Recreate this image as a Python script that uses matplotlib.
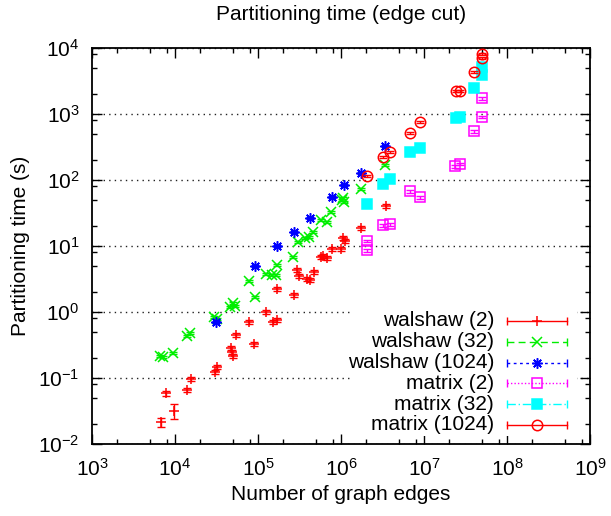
import matplotlib
matplotlib.use('Agg')
import matplotlib.pyplot as plt
from matplotlib.patches import Rectangle
from matplotlib.ticker import FixedLocator, NullFormatter, LogFormatterSciNotation

plt.rcParams['font.family'] = ['Liberation Sans', 'DejaVu Sans']
plt.rcParams['mathtext.fontset'] = 'custom'
plt.rcParams['mathtext.rm'] = 'Liberation Sans'
plt.rcParams['mathtext.it'] = 'Liberation Sans:italic'
plt.rcParams['mathtext.bf'] = 'Liberation Sans:bold'

title = "Partitioning time (edge cut)"
xlabel = "Number of graph edges"
ylabel = "Partitioning time (s)"
labels = ["walshaw (2)", "walshaw (32)", "walshaw (1024)",
          "matrix (2)", "matrix (32)", "matrix (1024)"]
x_major = [1e3, 1e4, 1e5, 1e6, 1e7, 1e8, 1e9]
y_major = [1e-2, 1e-1, 1e0, 1e1, 1e2, 1e3, 1e4]

# walshaw (2)
w2_x = [6.8e3, 9.7e3, 7.8e3, 1.40e4, 1.56e4, 3.03e4, 3.21e4, 4.73e4, 4.86e4, 5.0e4,
        5.43e4, 7.8e4, 8.95e4, 1.25e5, 1.52e5, 1.69e5, 1.69e5, 2.72e5, 2.95e5, 3.12e5,
        3.89e5, 4.23e5, 4.73e5, 5.74e5, 6.07e5, 6.78e5, 7.8e5, 1.0e6, 1.06e6, 1.12e6,
        1.74e6, 3.48e6]
w2_y = [0.0215, 0.032, 0.059, 0.066, 0.097, 0.123, 0.147, 0.285, 0.248, 0.215,
        0.449, 0.705, 0.327, 1.0, 0.705, 0.757, 2.23, 1.81, 4.33, 3.51,
        3.16, 3.05, 4.04, 6.81, 7.05, 6.58, 9.0, 9.0, 13.2, 11.9,
        18.7, 40.4]
w2_e = [0.0037, 0.008, 0.005, 0.005, 0.008, 0.01, 0.012, 0.02, 0.02, 0.017,
        0.035, 0.05, 0.025, 0.08, 0.05, 0.06, 0.17, 0.14, 0.33, 0.27,
        0.25, 0.23, 0.3, 0.5, 0.55, 0.5, 0.7, 0.7, 1.0, 0.9,
        1.4, 3.0]

# walshaw (32)
w32_x = [6.6e3, 7.2e3, 9.5e3, 1.40e4, 1.52e4, 2.95e4, 3.21e4, 4.6e4, 5.0e4, 5.28e4,
         7.8e4, 9.2e4, 1.25e5, 1.47e5, 1.65e5, 1.69e5, 2.64e5, 3.03e5, 3.68e5, 4.11e5,
         4.6e5, 5.74e5, 6.78e5, 7.58e5, 1.03e6, 1.09e6, 1.06e6, 1.74e6, 3.39e6]
w32_y = [0.215, 0.208, 0.239, 0.433, 0.481, 0.84, 0.78, 1.19, 1.37, 1.23,
         2.95, 1.69, 3.77, 3.64, 3.64, 5.15, 6.81, 11.5, 13.2, 13.7,
         16.3, 24.8, 23.1, 32.7, 49.8, 46.4, 53.4, 73.1, 169]
w32_e = [0.006, 0.006, 0.007, 0.012, 0.013, 0.02, 0.02, 0.03, 0.04, 0.03,
         0.08, 0.05, 0.1, 0.1, 0.1, 0.14, 0.2, 0.3, 0.35, 0.4,
         0.45, 0.7, 0.6, 0.9, 1.4, 1.3, 1.5, 2.0, 4.5]

# walshaw (1024)
w1024_x = [3.12e4, 9.2e4, 1.69e5, 2.72e5, 4.23e5, 7.8e5, 1.09e6, 1.74e6, 3.39e6]
w1024_y = [0.705, 4.98, 10.0, 16.3, 26.6, 55.2, 84.0, 128, 327]
w1024_e = [0.02, 0.13, 0.27, 0.45, 0.7, 1.5, 2.3, 3.5, 9.0]

# matrix (2)
m2_x = [2.08e6, 2.08e6, 3.21e6, 3.89e6, 6.78e6, 8.95e6, 2.36e7, 2.72e7, 4.0e7, 5.0e7, 5.0e7]
m2_y = [11.9, 8.7, 20.8, 21.5, 68.1, 55.2, 163, 175, 552, 901, 1745]
m2_e = [0.6, 0.45, 1.1, 1.1, 3.5, 2.8, 8.5, 9.0, 28, 46, 90]

# matrix (32)
m32_x = [2.08e6, 3.21e6, 3.89e6, 6.78e6, 8.95e6, 2.4e7, 2.72e7, 4.0e7, 5.0e7, 5.0e7]
m32_y = [43.3, 86.9, 103.5, 266, 305, 869, 901, 2477, 3900, 5150]
m32_e = [1.5, 3.0, 3.6, 9.0, 10.5, 30, 31, 85, 135, 180]

# matrix (1024)
m1024_x = [2.08e6, 3.21e6, 3.89e6, 6.78e6, 8.95e6, 2.4e7, 2.72e7, 4.0e7, 5.0e7, 5.0e7]
m1024_y = [115, 223, 266, 515, 757, 2230, 2230, 4330, 7050, 8110]
m1024_e = [4.0, 7.7, 9.2, 18, 26, 77, 77, 150, 245, 280]

series = [
    dict(x=w2_x, y=w2_y, e=w2_e, color='#ff0000', marker='+', ls='-', mfc='none'),
    dict(x=w32_x, y=w32_y, e=w32_e, color='#00ee00', marker='x', ls=(0, (5, 3)), mfc='none'),
    dict(x=w1024_x, y=w1024_y, e=w1024_e, color='#0000ff', marker=(8, 2, 0), ls=(0, (2, 2.5)), mfc='none'),
    dict(x=m2_x, y=m2_y, e=m2_e, color='#ff00ff', marker='s', ls=(0, (1, 1.5)), mfc='none'),
    dict(x=m32_x, y=m32_y, e=m32_e, color='#00ffff', marker='s', ls=(0, (6, 2, 1, 2)), mfc='#00ffff'),
    dict(x=m1024_x, y=m1024_y, e=m1024_e, color='#ff0000', marker='o', ls='-', mfc='none'),
]

fig = plt.figure(figsize=(6.11, 5.16), dpi=100)
ax = fig.add_axes([92 / 611, 72 / 516, 498 / 611, 396 / 516])
ax.set_xscale('log')
ax.set_yscale('log')
ax.set_xlim(x_major[0], x_major[-1])
ax.set_ylim(y_major[0], y_major[-1])

for s in series:
    ax.errorbar(s['x'], s['y'], yerr=s['e'], fmt='none', ecolor=s['color'],
                elinewidth=1, capsize=3, capthick=1, zorder=4)
    ax.plot(s['x'], s['y'], ls='none', marker=s['marker'], ms=7.5, mew=1.1,
            mec=s['color'], mfc=s['mfc'], zorder=4)

x_minor = [m * v for v in x_major[:-1] for m in (2, 5, 8)]
y_minor = [m * v for v in y_major[:-1] for m in (2, 5, 8)]
ax.xaxis.set_major_locator(FixedLocator(x_major))
ax.yaxis.set_major_locator(FixedLocator(y_major))
ax.xaxis.set_minor_locator(FixedLocator(x_minor))
ax.yaxis.set_minor_locator(FixedLocator(y_minor))
ax.xaxis.set_major_formatter(LogFormatterSciNotation())
ax.yaxis.set_major_formatter(LogFormatterSciNotation())
ax.xaxis.set_minor_formatter(NullFormatter())
ax.yaxis.set_minor_formatter(NullFormatter())
ax.tick_params(which='both', direction='in', top=True, right=True, width=1, colors='black')
ax.tick_params(which='major', length=7, labelsize=15)
ax.tick_params(which='minor', length=3.5)
ax.tick_params(axis='x', which='major', pad=10)
ax.tick_params(axis='y', which='major', pad=9)
for sp in ax.spines.values():
    sp.set_linewidth(1.3)

ax.set_axisbelow(True)
ax.yaxis.grid(True, which='major', linestyle=(0, (1, 3)), color='#222222', linewidth=1)

# key (opaque box)
def fx(px):
    return (px - 92) / 498

def fy(py):
    return (444 - py) / 396

ax.add_patch(Rectangle((fx(350), fy(436)), fx(577) - fx(350), fy(305) - fy(436),
                       transform=ax.transAxes, facecolor='white', edgecolor='none', zorder=3))
rows = [321, 341.8, 362.6, 383.4, 404.2, 425]
for s, lab, r in zip(series, labels, rows):
    yy = fy(r)
    ax.text(fx(494), yy, lab, transform=ax.transAxes, ha='right', va='center',
            fontsize=15, zorder=5)
    ax.plot([fx(507), fx(567)], [yy, yy], transform=ax.transAxes, color=s['color'],
            ls=s['ls'], lw=1, zorder=5, clip_on=False)
    ax.plot([fx(507), fx(567)], [yy, yy], transform=ax.transAxes, color=s['color'],
            ls='none', marker='|', ms=6, mew=1, zorder=5, clip_on=False)
    ax.plot([fx(537)], [yy], transform=ax.transAxes, ls='none', marker=s['marker'],
            ms=7.5, mew=1.1, mec=s['color'], mfc=s['mfc'], zorder=6, clip_on=False)

fig.text(341 / 611, 1 - 15 / 516, title, ha='center', va='center', fontsize=15)
fig.text(341 / 611, 1 - 494 / 516, xlabel, ha='center', va='center', fontsize=15)
fig.text(21 / 611, 1 - 246 / 516, ylabel, ha='center', va='center', fontsize=15, rotation=90)

fig.savefig('out.png', dpi=100)
